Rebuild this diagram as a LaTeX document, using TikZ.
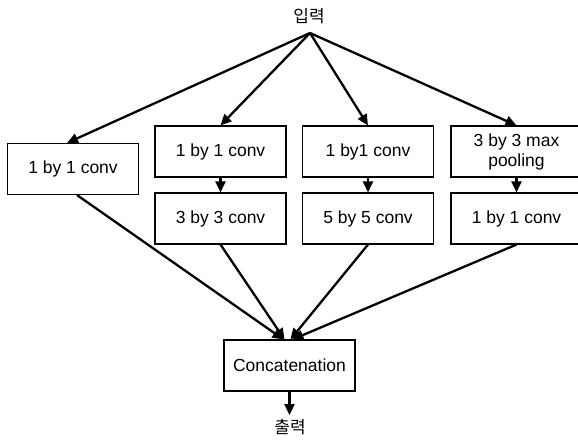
\documentclass[tikz,border=0pt]{standalone}
\usepackage{fontspec}
\setmainfont{Liberation Sans}
\newfontfamily\kr{Noto Sans CJK KR}
\usetikzlibrary{arrows.meta}
\begin{document}
\begin{tikzpicture}[x=1pt,y=-1pt,
  box/.style={draw, line width=1.1pt, minimum width=131pt, minimum height=51pt, inner sep=0pt, align=center, font=\fontsize{17.5}{20}\selectfont},
  arr/.style={line width=2.3pt, -{Triangle[length=11pt,width=10pt]}},
  lbl/.style={font=\kr\fontsize{17}{19}\selectfont, inner sep=0pt}]
\clip (0,0) rectangle (578,440);
\node[lbl] (in) at (309,16) {입력};
\coordinate (apex) at (310,33);
\node[box] (a) at (73,169) {1 by 1 conv};
\node[box] (b1) at (220.5,151.5) {1 by 1 conv};
\node[box] (b2) at (220.5,218.5) {3 by 3 conv};
\node[box] (c1) at (368,151.5) {1 by1 conv};
\node[box] (c2) at (368,218.5) {5 by 5 conv};
\node[box] (d1) at (516.5,151.5) {3 by 3 max\\pooling};
\node[box] (d2) at (516.5,218.5) {1 by 1 conv};
\node[box] (cat) at (289.5,365.5) {Concatenation};
\node[lbl] (out) at (290,427) {출력};
\coordinate (outtip) at (289.5,415);
\draw[arr] (apex) -- ([xshift=-6pt]a.north);
\draw[arr] (apex) -- (b1.north);
\draw[arr] (apex) -- (c1.north);
\draw[arr] (apex) -- (d1.north);
\draw[arr] (b1) -- (b2);
\draw[arr] (c1) -- (c2);
\draw[arr] (d1) -- (d2);
\draw[arr] ([xshift=4pt]a.south) -- ([xshift=-6pt]cat.north);
\draw[arr] (b2.south) -- ([xshift=-5pt]cat.north);
\draw[arr] (c2.south) -- ([xshift=1pt]cat.north);
\draw[arr] (d2.south) -- ([xshift=3pt]cat.north);
\draw[arr] (cat.south) -- (outtip);
\end{tikzpicture}
\end{document}
